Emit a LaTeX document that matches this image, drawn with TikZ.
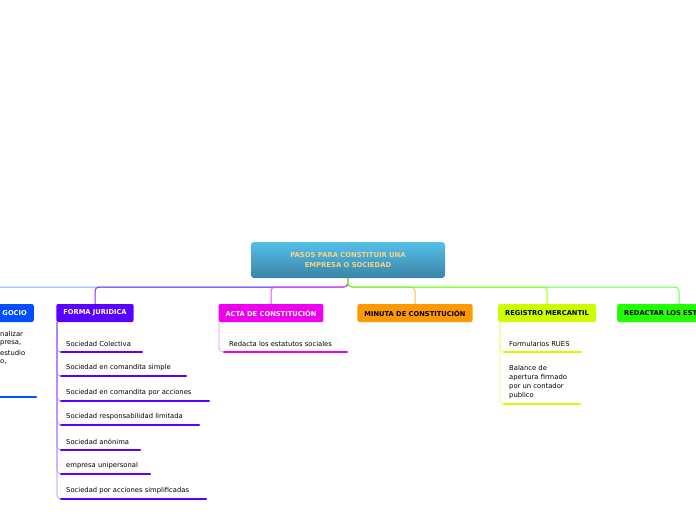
\documentclass[tikz,border=0pt]{standalone}
\usepackage{fontspec}
\setmainfont{DejaVu Sans}
\usetikzlibrary{positioning}
\definecolor{cPlan}{HTML}{0050FF}
\definecolor{cForma}{HTML}{5A00FF}
\definecolor{cActa}{HTML}{EE00EE}
\definecolor{cMinuta}{HTML}{FF9900}
\definecolor{cReg}{HTML}{CCFF00}
\definecolor{cRed}{HTML}{22FF00}
\definecolor{rootTxt}{HTML}{F2D38A}
\definecolor{rootTop}{HTML}{55C0EA}
\definecolor{rootBot}{HTML}{3A84A6}
\tikzset{branch/.style={rectangle, rounded corners=2pt, minimum height=18pt, inner xsep=7pt, font=\fontsize{6.7}{7}\selectfont\bfseries}}
\tikzset{leaf/.style={anchor=west, inner sep=0pt, align=left, font=\fontsize{6.8}{9}\selectfont}}
\tikzset{uline/.style={line width=2.2pt, line cap=round}}
\tikzset{link/.style={line width=1pt, rounded corners=4pt}}
\begin{document}
\begin{tikzpicture}[x=1pt, y=-1pt]
    \useasboundingbox (0,0) rectangle (696,520);
    \clip (0,0) rectangle (696,520);

    % root
    \node [rectangle, rounded corners=3pt, minimum width=194pt, minimum height=36pt,
        top color=rootTop, bottom color=rootBot,
        text=rootTxt, align=center, font=\fontsize{6.8}{10}\selectfont\bfseries]
        (root) at (348,260) {PASOS PARA CONSTITUIR UNA\\EMPRESA O SOCIEDAD};
    \coordinate (hub) at (348,287);

    % branches
    \node [branch, fill=cPlan, text=white, anchor=east] (plan) at (34,313) {GOCIO};
    \node [branch, fill=cForma, text=white] (forma) at (95,313) {FORMA JURIDICA};
    \node [branch, fill=cActa, text=white] (acta) at (271,313) {ACTA DE CONSTITUCIÓN};
    \node [branch, fill=cMinuta, text=black] (minuta) at (415,313) {MINUTA DE CONSTITUCIÓN};
    \node [branch, fill=cReg, text=black] (registro) at (547,313) {REGISTRO MERCANTIL};
    \node [branch, fill=cRed, text=black, anchor=west] (redactar) at (617,313) {REDACTAR LOS ESTATUTOS};

    % connectors from root
    \draw [link, cPlan!50] (root.south) -- (hub) -- (-5,287);
    \draw [link, cForma!80] (root.south) -- (hub) -| (forma.north);
    \draw [link, cActa!70] (root.south) -- (hub) -| (acta.north);
    \draw [link, cMinuta!70] (root.south) -- (hub) -| (minuta.north);
    \draw [link, cReg!80!green] (root.south) -- (hub) -| (registro.north);
    \draw [link, cRed!70] (root.south) -- (hub) -| (679,304);

    % plan de negocio
    \node [leaf, font=\fontsize{6.8}{8.5}\selectfont] (plan1) at (0,348) {nalizar\\presa,\\[2pt]estudio\\o,};
    \draw [uline, cPlan] (-5,397) -- (36,397);

    % forma juridica
    \foreach \n/\y/\w/\t in {f1/344/142/Sociedad Colectiva,
                             f2/368/186/Sociedad en comandita simple,
                             f3/393/209/Sociedad en comandita por acciones,
                             f4/417/199/Sociedad responsabilidad limitada,
                             f5/442/140/Sociedad anónima,
                             f6/466/150/empresa unipersonal,
                             f7/491/206/Sociedad por acciones simplificadas} {
        \node [leaf] (\n) at (66,\y) {\t};
        \draw [uline, cForma] (61,\y+8) -- (\w,\y+8);
        \draw [link, line width=0.6pt, cForma!50] (57,322) |- (61,\y+8);
    }

    % acta
    \node [leaf] (a1) at (229,344) {Redacta los estatutos sociales};
    \draw [uline, cActa] (224,352) -- (347,352);
    \draw [link, line width=0.6pt, cActa!50] (219,322) |- (224,352);

    % registro
    \node [leaf] (r1) at (509,344) {Formularios RUES};
    \draw [uline, cReg] (504,352) -- (581,352);
    \node [leaf, anchor=north west] (r2) at (509,365) {Balance de\\apertura firmado\\por un contador\\publico};
    \draw [uline, cReg] (504,404) -- (580,404);
    \draw [link, line width=0.6pt, cReg!60] (500,322) |- (504,352);
    \draw [link, line width=0.6pt, cReg!60] (500,322) |- (504,404);
\end{tikzpicture}
\end{document}
